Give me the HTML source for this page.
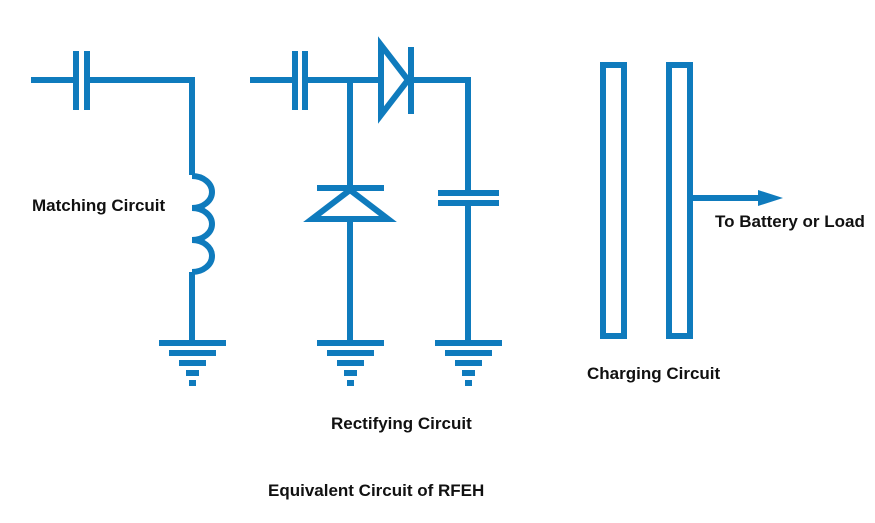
<!DOCTYPE html>
<html><head><style>
html,body{margin:0;padding:0;background:#fff;}
svg text{font-family:"Liberation Sans",sans-serif;font-weight:bold;font-size:17px;fill:#111;}
</style></head><body>
<svg width="875" height="518" viewBox="0 0 875 518" xmlns="http://www.w3.org/2000/svg">
<g stroke="#0f7bbd" stroke-width="6" fill="none">
<!-- matching -->
<path d="M31 80H74M90 80H192V175"/>
<path d="M76 51V110M87 51V110"/>
<path d="M192 176 a20 16 0 0 1 0 32 a20 16 0 0 1 0 32 a20 16 0 0 1 0 32"/>
<path d="M192 272V342"/>
<!-- rectifying -->
<path d="M250 80H293M308 80H380M411 80H468V193M468 203V342"/>
<path d="M295 51V110M305 51V110"/>
<path d="M350 80V342"/>
<path d="M381 45V115L408 80Z" fill="#fff"/>
<path d="M411 47V114"/>
<path d="M317 188H384"/>
<path d="M350 190L312 219H388Z" fill="#fff"/>
<path d="M438 193H499M438 203H499"/>
<!-- charging -->
<rect x="603" y="65" width="21" height="271"/>
<rect x="669" y="65" width="21" height="271"/>
<path d="M692 198H762"/>
</g>
<path d="M758 190L783 198L758 206Z" fill="#0f7bbd"/>
<g fill="#0f7bbd">
<rect x="159" y="340" width="67" height="6"/><rect x="169" y="350" width="47" height="6"/><rect x="179" y="360" width="27" height="6"/><rect x="186" y="370" width="13" height="6"/><rect x="189" y="380" width="7" height="6"/>
<rect x="317" y="340" width="67" height="6"/><rect x="327" y="350" width="47" height="6"/><rect x="337" y="360" width="27" height="6"/><rect x="344" y="370" width="13" height="6"/><rect x="347" y="380" width="7" height="6"/>
<rect x="435" y="340" width="67" height="6"/><rect x="445" y="350" width="47" height="6"/><rect x="455" y="360" width="27" height="6"/><rect x="462" y="370" width="13" height="6"/><rect x="465" y="380" width="7" height="6"/>
</g>
<text x="32" y="211">Matching Circuit</text>
<text x="715" y="227">To Battery or Load</text>
<text x="587" y="379">Charging Circuit</text>
<text x="331" y="429">Rectifying Circuit</text>
<text x="268" y="496">Equivalent Circuit of RFEH</text>
</svg>
</body></html>
